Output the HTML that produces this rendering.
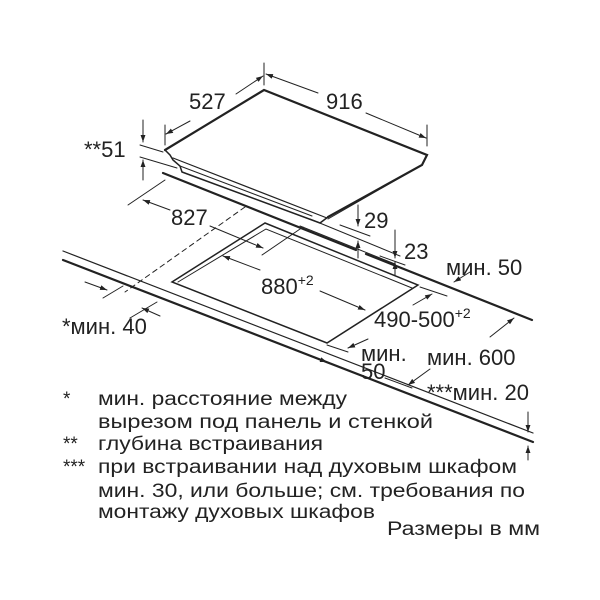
<!DOCTYPE html>
<html><head><meta charset="utf-8"><style>
html,body{margin:0;padding:0;background:#fff;width:600px;height:600px;overflow:hidden}
svg{display:block}
text{font-family:"Liberation Sans",Arial,sans-serif;fill:#222}
</style></head><body>
<svg width="600" height="600" viewBox="0 0 600 600" xmlns="http://www.w3.org/2000/svg">
<defs>
<marker id="a" viewBox="0 0 10 10" refX="10" refY="5" markerWidth="7" markerHeight="7" orient="auto-start-reverse" markerUnits="userSpaceOnUse"><path d="M0,1.5 L10,5 L0,8.5 Z" fill="#222"/></marker>
</defs>
<g stroke="#222" fill="none" stroke-linecap="round">
<path d="M165,150 L264,90 L427,155 L422,165 L328,217" stroke-width="2.2"/>
<path d="M165,150 L170,155 L173,160 L180,166 L182,172 L320,223 L328,217" stroke-width="1.5"/>
<line x1="173" y1="158" x2="327" y2="218" stroke-width="1.2"/>
<line x1="180" y1="166" x2="312" y2="216" stroke-width="1"/>
<line x1="422" y1="165" x2="328" y2="219" stroke-width="1"/>
<line x1="163" y1="173" x2="356" y2="250" stroke-width="2.2"/>
<line x1="366" y1="254" x2="532" y2="320" stroke-width="2.2"/>
<line x1="310" y1="219" x2="400" y2="256" stroke-width="1"/>
<line x1="300" y1="226" x2="395" y2="264" stroke-width="1"/>
<line x1="63" y1="251" x2="533" y2="433" stroke-width="1.2"/>
<line x1="63" y1="260" x2="533" y2="442" stroke-width="2.2"/>
<line x1="245" y1="207" x2="125" y2="292" stroke-width="1" stroke-dasharray="5,4"/>
<path d="M265,223 L418,285 L327,343 L172,282 Z" stroke-width="1.5"/>
<path d="M178,282 L266,229 L412,288" stroke-width="1"/>
<line x1="165" y1="125" x2="165" y2="145" stroke-width="1"/>
<line x1="264" y1="63" x2="264" y2="85" stroke-width="1"/>
<line x1="427" y1="125" x2="427" y2="146" stroke-width="1"/>
<line x1="190" y1="121" x2="166" y2="134" stroke-width="1" marker-end="url(#a)"/>
<line x1="236" y1="94" x2="263" y2="76" stroke-width="1" marker-end="url(#a)"/>
<line x1="318" y1="93" x2="266" y2="74" stroke-width="1" marker-end="url(#a)"/>
<line x1="366" y1="113" x2="426" y2="138" stroke-width="1" marker-end="url(#a)"/>
<line x1="140" y1="145" x2="163" y2="152" stroke-width="1"/>
<line x1="140" y1="157" x2="177" y2="168" stroke-width="1"/>
<line x1="143" y1="120" x2="143" y2="142" stroke-width="1" marker-end="url(#a)"/>
<line x1="143" y1="180" x2="143" y2="160" stroke-width="1" marker-end="url(#a)"/>
<line x1="128" y1="205" x2="165" y2="180" stroke-width="1"/>
<line x1="170" y1="210" x2="143" y2="200" stroke-width="1" marker-end="url(#a)"/>
<line x1="210" y1="226" x2="263" y2="248" stroke-width="1" marker-end="url(#a)"/>
<line x1="262" y1="255" x2="303" y2="227" stroke-width="1"/>
<line x1="358" y1="205" x2="358" y2="226" stroke-width="1" marker-end="url(#a)"/>
<line x1="358" y1="258" x2="358" y2="241" stroke-width="1" marker-end="url(#a)"/>
<line x1="340" y1="225" x2="370" y2="236" stroke-width="1"/>
<line x1="395" y1="230" x2="395" y2="258" stroke-width="1" marker-end="url(#a)"/>
<line x1="395" y1="275" x2="395" y2="262" stroke-width="1" marker-end="url(#a)"/>
<line x1="380" y1="256" x2="405" y2="265" stroke-width="1"/>
<line x1="470" y1="272" x2="454" y2="282" stroke-width="1" marker-end="url(#a)"/>
<line x1="260" y1="270" x2="223" y2="256" stroke-width="1" marker-end="url(#a)"/>
<line x1="320" y1="291" x2="365" y2="310" stroke-width="1" marker-end="url(#a)"/>
<line x1="420" y1="287" x2="447" y2="296" stroke-width="1"/>
<line x1="327" y1="345" x2="348" y2="352" stroke-width="1"/>
<line x1="413" y1="305" x2="432" y2="294" stroke-width="1" marker-end="url(#a)"/>
<line x1="368" y1="339" x2="348" y2="348" stroke-width="1" marker-end="url(#a)"/>
<line x1="490" y1="337" x2="514" y2="318" stroke-width="1" marker-end="url(#a)"/>
<line x1="430" y1="369" x2="408" y2="385" stroke-width="1" marker-end="url(#a)"/>
<line x1="385" y1="378" x2="412" y2="388" stroke-width="1"/>
<line x1="310" y1="356" x2="327" y2="362" stroke-width="1" marker-end="url(#a)"/>
<line x1="85" y1="282" x2="107" y2="290" stroke-width="1" marker-end="url(#a)"/>
<line x1="160" y1="316" x2="142" y2="308" stroke-width="1" marker-end="url(#a)"/>
<line x1="103" y1="298" x2="123" y2="286" stroke-width="1"/>
<line x1="130" y1="318" x2="157" y2="302" stroke-width="1"/>
<line x1="528" y1="412" x2="528" y2="432" stroke-width="1" marker-end="url(#a)"/>
<line x1="528" y1="460" x2="528" y2="446" stroke-width="1" marker-end="url(#a)"/>
</g>
<g font-size="22">
<text x="189" y="109">527</text>
<text x="326" y="109">916</text>
<text x="84" y="157">**51</text>
<text x="171" y="225">827</text>
<text x="364" y="228">29</text>
<text x="404" y="259">23</text>
<text x="446" y="275">мин. 50</text>
<text x="261" y="294">880<tspan font-size="14" dy="-9">+2</tspan></text>
<text x="374" y="327">490-500<tspan font-size="14" dy="-9">+2</tspan></text>
<text x="62" y="334">*мин. 40</text>
<text x="361" y="361">мин.</text>
<text x="361" y="379">50</text>
<text x="427" y="365">мин. 600</text>
<text x="427" y="400">***мин. 20</text>
</g>
<g font-size="19">
<text x="63" y="405">*</text>
<text x="98" y="405" textLength="249" lengthAdjust="spacingAndGlyphs">мин. расстояние между</text>
<text x="98" y="428" textLength="335" lengthAdjust="spacingAndGlyphs">вырезом под панель и стенкой</text>
<text x="63" y="450">**</text>
<text x="98" y="450" textLength="225" lengthAdjust="spacingAndGlyphs">глубина встраивания</text>
<text x="63" y="473">***</text>
<text x="98" y="473" textLength="419" lengthAdjust="spacingAndGlyphs">при встраивании над духовым шкафом</text>
<text x="98" y="497" textLength="427" lengthAdjust="spacingAndGlyphs">мин. 30, или больше; см. требования по</text>
<text x="98" y="518" textLength="277" lengthAdjust="spacingAndGlyphs">монтажу духовых шкафов</text>
<text x="387" y="535" textLength="153" lengthAdjust="spacingAndGlyphs">Размеры в мм</text>
</g>
</svg>
</body></html>
